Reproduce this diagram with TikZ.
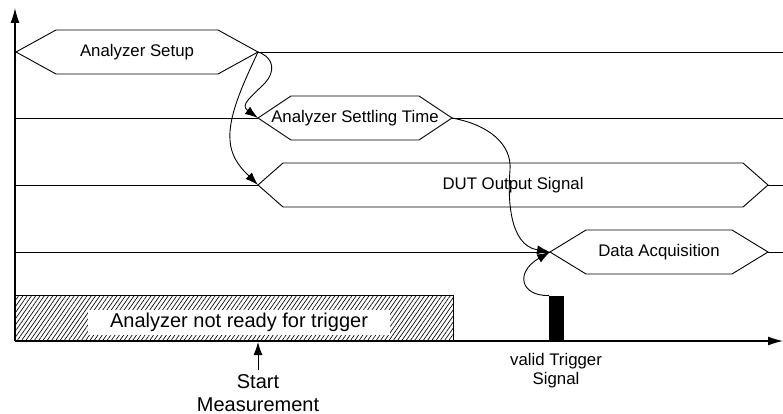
\documentclass[tikz,border=0pt]{standalone}
\usepackage{fontspec}
\setmainfont{Liberation Sans}
\usetikzlibrary{arrows.meta,patterns.meta}
\newcommand{\hexsig}[6]{%
  \coordinate (#1W) at (#2,#4);
  \coordinate (#1E) at (#3,#4);
  \draw[sig] (#1W) -- ({#2+#5},{#4-22}) -- ({#3-#5},{#4-22}) -- (#1E) -- ({#3-#5},{#4+22}) -- ({#2+#5},{#4+22}) -- cycle;
  \node[lbl] (#1) at ({(#2+#3)/2},#4) {#6};
}
\begin{document}
\begin{tikzpicture}[x=1pt,y=-1pt,
  sig/.style={draw,line width=0.9pt},
  lbl/.style={font=\fontsize{16.8}{19}\selectfont, inner sep=0pt},
  biglbl/.style={font=\fontsize{20}{23}\selectfont, inner sep=0pt},
  wire/.style={line width=0.9pt},
  conn/.style={line width=0.9pt,-{Latex[length=13pt,width=9pt]}},
  axis/.style={line width=1.2pt,-{Latex[length=15pt,width=9pt]}}]
\useasboundingbox (0,0) rectangle (783,414);

% hatched "not ready" region
\node[draw, line width=0.9pt, pattern={Lines[angle=55,distance=3.5pt,line width=0.65pt]},
      minimum width=438pt, minimum height=45pt, inner sep=0pt, anchor=south west] (notready) at (15,341) {};
\node[biglbl, fill=white, minimum width=302pt, minimum height=25pt] (notreadytxt) at (239,322) {Analyzer not ready for trigger};

% trigger pulse
\node[fill=black, minimum width=15pt, minimum height=45pt, inner sep=0pt, anchor=south west] (pulse) at (549,341) {};

% axes
\coordinate (O) at (15,341);
\coordinate (ytop) at (15,8);
\coordinate (xend) at (783,341);
\draw[axis] (O) -- (ytop);
\draw[axis] (O) -- (xend);

% signal hexagons
\hexsig{setup}{16}{258}{52}{40}{Analyzer Setup}
\hexsig{settle}{258}{452}{118}{33}{Analyzer Settling Time}
\hexsig{dut}{258}{768}{185}{25}{DUT Output Signal}
\hexsig{daq}{550}{768}{252}{36}{Data Acquisition}

% row lines
\coordinate (r1R) at (783,52);
\coordinate (r2L) at (15,118);
\coordinate (r2R) at (783,118);
\coordinate (r3L) at (15,185);
\coordinate (r3R) at (783,185);
\coordinate (r4L) at (15,252);
\coordinate (r4R) at (783,252);
\draw[wire] (setupE) -- (r1R);
\draw[wire] (r2L) -- (settleW);
\draw[wire] (settleE) -- (r2R);
\draw[wire] (r3L) -- (dutW);
\draw[wire] (dutE) -- (r3R);
\draw[wire] (r4L) -- (daqW);
\draw[wire] (daqE) -- (r4R);

% dependency curves
\draw[conn] (setupE) .. controls (275,58) and (275,72) .. (265,83) .. controls (250,98) and (240,105) .. (settleW);
\draw[conn] (setupE) .. controls (245,80) and (228,115) .. (230,140) .. controls (231,160) and (245,172) .. (dutW);
\draw[conn] (settleE) .. controls (490,125) and (512,145) .. (510,170) .. controls (508,195) and (508,245) .. (daqW);
\draw[conn] (pulse.north west) .. controls (520,296) and (515,272) .. (daqW);

% labels below axis
\node[biglbl, align=center] (startlbl) at (258,393) {Start\\Measurement};
\coordinate (startpt) at (258,342);
\draw[conn, shorten <=4pt] (startlbl.north) -- (startpt);
\node[lbl, align=center] (triglbl) at (556,371) {valid Trigger\\Signal};
\end{tikzpicture}
\end{document}
